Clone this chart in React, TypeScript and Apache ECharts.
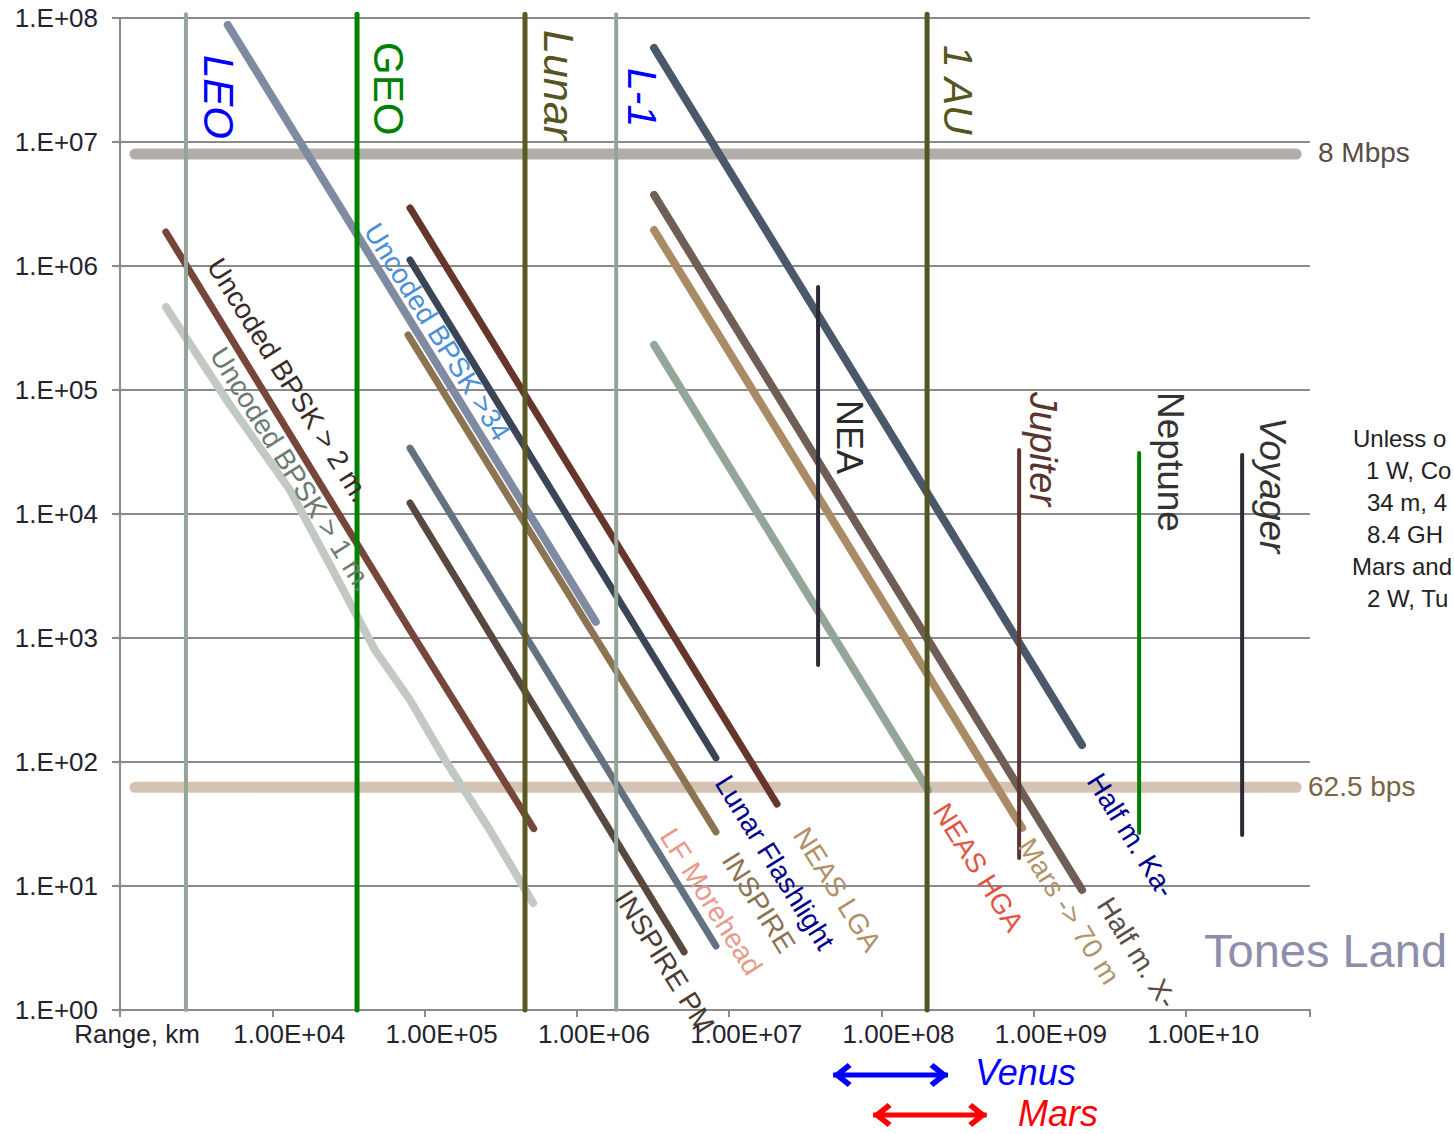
import React, { useEffect, useRef } from "react";
import * as echarts from "echarts";

// ---------- axes ----------
const RANGE_MIN_KM = 1000;
const RANGE_MAX_KM = 6.5e10;
const RATE_MIN_BPS = 1;
const RATE_MAX_BPS = 1e8;
const xTickLabels: Record<number, string> = {
  3: "Range, km",
  4: "1.00E+04",
  5: "1.00E+05",
  6: "1.00E+06",
  7: "1.00E+07",
  8: "1.00E+08",
  9: "1.00E+09",
  10: "1.00E+10",
};
const yTickLabels = ["1.E+00", "1.E+01", "1.E+02", "1.E+03", "1.E+04", "1.E+05", "1.E+06", "1.E+07", "1.E+08"];

// ---------- reference data-rate levels [km, bps] ----------
const level8Mbps = [[1254, 8e6], [5.27e10, 8e6]];
const level62bps = [[1254, 62.5], [5.27e10, 62.5]];

// ---------- distance markers [km] ----------
const leoKm = 2710;
const geoKm = 36000;
const lunarKm = 456000;
const l1Km = 1.81e6;
const auKm = 1.99e8;
const markerTopBps = 1.07e8;
const markerBottomBps = 1;
const neaKm = 3.83e7;
const neaBps = [606, 6.77e5];
const jupiterKm = 8.0e8;
const jupiterBps = [16.8, 32800];
const neptuneKm = 4.91e9;
const neptuneBps = [26.8, 31000];
const voyagerKm = 2.33e10;
const voyagerBps = [25.8, 29900];

// ---------- link curves [km, bps] ----------
const curveBpsk34 = [[5100, 8.8e7], [1.33e6, 1350]];
const curveBpsk2m = [[2000, 1.88e6], [80000, 1160], [5.2e5, 29]];
const curveBpsk1m = [
  [2000, 4.67e5], [5270, 75700], [13060, 15600], [23900, 3880], [47200, 800],
  [80200, 316], [136000, 104], [268000, 28.3], [515000, 7.3],
];
const curveNeasLga = [[80200, 2.94e6], [2.06e7, 45.8]];
const curveLunarFlashlight = [[80200, 1.117e6], [8.18e6, 107.7]];
const curveInspire = [[77800, 2.78e5], [8.18e6, 27.3]];
const curveLfMorehead = [[80200, 34000], [8.18e6, 3.28]];
const curveInspirePm = [[80200, 12270], [5.05e6, 2.94]];
const curveHalfMKa = [[3.21e6, 5.73e7], [2.07e9, 137]];
const curveHalfMX = [[3.21e6, 3.74e6], [2.07e9, 9.29]];
const curveMars70m = [[3.21e6, 1.95e6], [8.36e8, 29.4]];
const curveNeasHga = [[3.21e6, 2.31e5], [2.02e8, 59.4]];

// ---------- planet distance ranges [km] ----------
const venusRange = [4.81e7, 2.73e8];
const marsRange = [8.8e7, 4.9e8];

const FONT = "'Liberation Sans', Arial, sans-serif";

const CHEVRON = "path://M12,0 L24,15 L20,19 L12,9 L4,19 L0,15 Z";

function lineSeries(data: number[][], color: string, width: number, z = 2, clip = true) {
  return {
    type: "line",
    data,
    showSymbol: false,
    symbol: "none",
    silent: true,
    clip,
    z,
    lineStyle: { color, width, cap: "round", join: "round" },
  };
}

function vertical(km: number, bps: number[], color: string, width: number) {
  return lineSeries([[km, bps[0]], [km, bps[1]]], color, width, 4, false);
}

function rangeArrow(range: number[], row: number, color: string) {
  return {
    type: "line",
    xAxisIndex: 1,
    yAxisIndex: 1,
    silent: true,
    clip: false,
    symbol: CHEVRON,
    symbolSize: [24, 19],
    lineStyle: { color, width: 5 },
    itemStyle: { color },
    data: [
      { value: [range[0], row], symbolRotate: 90, symbolOffset: [9, 0] },
      { value: [range[1], row], symbolRotate: -90, symbolOffset: [-9, 0] },
    ],
  };
}

function txt(text: string, x: number, y: number, o: any = {}) {
  return {
    type: "text",
    x,
    y,
    rotation: o.rotation ?? 0,
    silent: true,
    z: 100,
    style: {
      text,
      fill: o.color ?? "#222",
      fontSize: o.size ?? 28,
      fontFamily: FONT,
      fontStyle: o.italic ? "italic" : "normal",
      align: "left",
      verticalAlign: "middle",
    },
  };
}

const SLANT = (-58 * Math.PI) / 180;
const DOWN = -Math.PI / 2;

export default function App() {
  const ref = useRef<HTMLDivElement>(null);
  useEffect(() => {
    document.body.style.margin = "0";
    document.body.style.overflow = "hidden";
    const chart = echarts.init(ref.current!, null, { renderer: "svg" });
    const axisGray = "#8a8a8a";
    chart.setOption({
      animation: false,
      textStyle: { fontFamily: FONT },
      grid: [
        { left: 120, right: 144, top: 18, bottom: 124, outerBoundsMode: "none" },
        { left: 120, right: 144, top: 1055, height: 80, outerBoundsMode: "none" },
      ],
      xAxis: [
        {
          type: "log",
          logBase: 10,
          min: RANGE_MIN_KM,
          max: RANGE_MAX_KM,
          splitNumber: 10,
          axisLine: { show: true, lineStyle: { color: axisGray, width: 2 } },
          axisTick: { show: true, length: 7, lineStyle: { color: axisGray, width: 2 } },
          splitLine: { show: false },
          axisLabel: {
            interval: 0,
            margin: 11,
            fontSize: 26,
            color: "#23232e",
            padding: [0, 0, 0, 34],
            formatter: (v: number) => {
              const e = Math.log10(v);
              const r = Math.round(e);
              if (Math.abs(e - r) > 1e-6) return "";
              return xTickLabels[r] ?? "";
            },
          },
        },
        { type: "log", logBase: 10, min: RANGE_MIN_KM, max: RANGE_MAX_KM, gridIndex: 1, show: false },
      ],
      yAxis: [
        {
          type: "log",
          logBase: 10,
          min: RATE_MIN_BPS,
          max: RATE_MAX_BPS,
          splitNumber: 10,
          axisLine: { show: true, lineStyle: { color: axisGray, width: 2 } },
          axisTick: { show: true, length: 8, lineStyle: { color: axisGray, width: 2 } },
          splitLine: { show: true, lineStyle: { color: axisGray, width: 2 } },
          axisLabel: {
            margin: 22,
            fontSize: 26,
            color: "#23232e",
            formatter: (v: number) => {
              const e = Math.log10(v);
              const r = Math.round(e);
              if (Math.abs(e - r) > 1e-6) return "";
              return yTickLabels[r] ?? "";
            },
          },
        },
        { type: "value", min: 0, max: 4, gridIndex: 1, show: false },
      ],
      series: [
        lineSeries(level8Mbps, "#b3ada8", 11, 1),
        lineSeries(level62bps, "#d4c3b3", 11, 1),
        lineSeries(curveBpsk1m, "#c2c9c2", 8),
        lineSeries(curveBpsk2m, "#76463a", 7),
        lineSeries(curveBpsk34, "#7f8ba0", 8),
        lineSeries(curveNeasLga, "#66362d", 7),
        lineSeries(curveLunarFlashlight, "#3a4656", 7),
        lineSeries(curveInspire, "#8c7352", 7),
        lineSeries(curveLfMorehead, "#64717f", 7),
        lineSeries(curveInspirePm, "#584940", 7),
        lineSeries(curveHalfMKa, "#4a5869", 8),
        lineSeries(curveHalfMX, "#6e5e55", 8),
        lineSeries(curveMars70m, "#a98c65", 8),
        lineSeries(curveNeasHga, "#93a698", 8),
        vertical(leoKm, [markerBottomBps, markerTopBps], "#94a598", 4),
        vertical(geoKm, [markerBottomBps, markerTopBps], "#008000", 5),
        vertical(lunarKm, [markerBottomBps, markerTopBps], "#5b5a23", 5),
        vertical(l1Km, [markerBottomBps, markerTopBps], "#94a598", 4),
        vertical(auKm, [markerBottomBps, markerTopBps], "#545422", 5),
        vertical(neaKm, neaBps, "#2b2b38", 4),
        vertical(jupiterKm, jupiterBps, "#5b3530", 4),
        vertical(neptuneKm, neptuneBps, "#008000", 4),
        vertical(voyagerKm, voyagerBps, "#2b2b35", 4),
        rangeArrow(venusRange, 3, "#0000ff"),
        rangeArrow(marsRange, 1, "#ff0000"),
      ],
      graphic: {
        elements: [
          txt("LEO", 218, 55, { rotation: DOWN, color: "#0000ff", size: 42, italic: true }),
          txt("GEO", 388, 42, { rotation: DOWN, color: "#008000", size: 42 }),
          txt("Lunar", 559, 30, { rotation: DOWN, color: "#55551e", size: 43, italic: true }),
          txt("L-1", 642, 68, { rotation: DOWN, color: "#0000ff", size: 41, italic: true }),
          txt("1 AU", 958, 45, { rotation: DOWN, color: "#55551e", size: 41, italic: true }),
          txt("NEA", 849, 400, { rotation: DOWN, color: "#2a2a2a", size: 36 }),
          txt("Jupiter", 1043, 392, { rotation: DOWN, color: "#5a3530", size: 38, italic: true }),
          txt("Neptune", 1170, 392, { rotation: DOWN, color: "#333333", size: 37 }),
          txt("Voyager", 1272, 417, { rotation: DOWN, color: "#333333", size: 37, italic: true }),

          txt("Uncoded BPSK >34", 371, 226, { rotation: SLANT, color: "#4a8fd8" }),
          txt("Uncoded BPSK > 2 m.", 214, 261, { rotation: SLANT, color: "#3a2a2a" }),
          txt("Uncoded BPSK > 1 m.", 217, 350, { rotation: SLANT, color: "#6b7b70" }),
          txt("NEAS LGA", 800, 830, { rotation: SLANT, color: "#b09068" }),
          txt("Lunar Flashlight", 722, 778, { rotation: SLANT, color: "#00008b" }),
          txt("INSPIRE", 729, 855, { rotation: SLANT, color: "#8b7350" }),
          txt("LF Morehead", 667, 831, { rotation: SLANT, color: "#e8998a" }),
          txt("INSPIRE PM", 622, 893, { rotation: SLANT, color: "#4a3a32" }),
          txt("NEAS HGA", 940, 806, { rotation: SLANT, color: "#e05545" }),
          txt("Mars -> 70 m", 1025, 841, { rotation: SLANT, color: "#b09468" }),
          txt("Half m. X-", 1104, 900, { rotation: SLANT, color: "#5a4d48" }),
          txt("Half m. Ka-", 1094, 776, { rotation: SLANT, color: "#00008b" }),

          txt("8 Mbps", 1318, 152, { color: "#5b4b48", size: 28 }),
          txt("62.5 bps", 1308, 786, { color: "#7a6545", size: 28 }),

          txt("Unless o", 1353, 438, { size: 24 }),
          txt("1 W, Co", 1366, 470, { size: 24 }),
          txt("34 m, 4", 1367, 502, { size: 24 }),
          txt("8.4 GH", 1367, 534, { size: 24 }),
          txt("Mars and", 1352, 566, { size: 24 }),
          txt("2 W, Tu", 1367, 598, { size: 24 }),

          txt("Tones Land", 1204, 950, { color: "#8e8eaa", size: 47 }),
          txt("Venus", 975, 1072, { color: "#0000ff", size: 36, italic: true }),
          txt("Mars", 1018, 1113, { color: "#ff0000", size: 36, italic: true }),
        ],
      },
    });
    return () => chart.dispose();
  }, []);
  return (
    <div
      ref={ref}
      style={{ position: "absolute", left: 0, top: 0, width: 1454, height: 1134, background: "#fff" }}
    />
  );
}
